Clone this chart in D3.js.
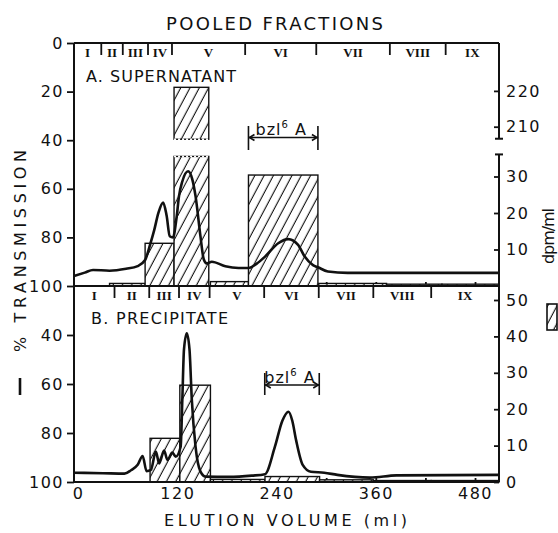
<!DOCTYPE html>
<html><head><meta charset="utf-8">
<script src="https://cdn.jsdelivr.net/npm/d3@7"></script>
<style>
body{margin:0;background:#fff}
svg{display:block}
</style></head><body>
<svg id="chart" width="558" height="533"></svg>
<script>
// ---- data ----
const volumeTicks = [0, 120, 240, 360, 480];
const volumeMinorTicks = [240, 300, 360, 420, 480];
const romanNumerals = ["I", "II", "III", "IV", "V", "VI", "VII", "VIII", "IX"];
// pooled fraction boundaries (ml)
const fractionEdgesA = [-5, 28, 54, 84.5, 113.5, 202, 288, 377, 444.5, 509];
const fractionEdgesB = [-5, 44, 86, 122, 159, 225, 291, 357, 427, 509];
// radioactivity of each pool: [start ml, end ml, dpm/ml]
const barsA = [[38, 81, 0.7], [81, 116, 11.7], [116, 158, 221], [160, 206, 1.2],
               [206, 290, 30.4], [291, 373, 0.7], [373, 440, 0.5], [440, 509, 0.5]];
const barsB = [[87, 123, 12.0], [123, 160, 26.6], [160, 226, 0.7], [226, 292, 1.5],
               [292, 357, 0.6], [357, 427, 0.4], [427, 509, 0.4]];
// absorbance traces: [ml, % transmission]
const traceA = [[-5, 95.9], [8, 94.5], [18, 93.4], [38, 93.7], [58, 92.9], [72, 91.8], [81, 89.3],
  [87, 83], [92, 77], [97, 70], [102.8, 65.7], [107, 71], [110.8, 79.5], [114.7, 80],
  [119, 72], [122, 63], [126, 57], [133, 52.8], [138, 56], [142, 63], [148, 79.7],
  [151.9, 89], [155.5, 90.7], [161.7, 90], [178, 91.9], [194, 92.6], [206, 92.6],
  [216, 90.8], [226, 87.9], [242, 82.4], [254, 80.7], [266, 83.1], [274, 87.9],
  [284, 91.4], [290, 92.3], [302, 94], [326, 94.6], [420, 94.6], [509, 94.6]];
const traceB = [[-5, 96.2], [30, 96.4], [56, 96.6], [64, 95.2], [72, 93], [78, 89.4], [82.8, 95.6],
  [88, 95.1], [94, 87.6], [98, 92.4], [104, 87.2], [108, 91], [114, 88], [118, 89.7],
  [124, 85.6], [126, 66.5], [128, 46], [131.4, 39.3], [134.7, 46], [137.5, 66.5],
  [142, 85.6], [148, 95.8], [154, 97.8], [182, 97.9], [210, 97.4], [226, 96.8],
  [238, 85.6], [247, 75], [254.5, 71.3], [259, 75], [263.6, 82.9], [271.6, 93],
  [281.6, 95.8], [297.6, 96.2], [313.5, 97.1], [353, 98.2], [385, 97.3], [509, 97.1]];
const transTicksA = [0, 20, 40, 60, 80, 100];
const transTicksB = [40, 60, 80, 100];
const dpmTicksA = [10, 20, 30];
const dpmTicksAUpper = [210, 220];
const dpmTicksB = [0, 10, 20, 30, 40, 50];
const breakLow = 35.5, breakHigh = 206.5;

// ---- layout ----
const FONT = "'DejaVu Sans', sans-serif";
const INK = "#111";
const left = 74, right = 499, topA = 43, midY = 286, botY = 482;

const svg = d3.select("#chart");
const x = d3.scaleLinear().domain([-5, 509]).range([left, right]);
const yA = d3.scaleLinear().domain([0, 100]).range([topA, midY]);
const yB = d3.scaleLinear().domain([20, 100]).range([midY, botY]);
const dA = d3.scaleLinear().domain([0, 10]).range([midY, 249.5]);
const dAup = d3.scaleLinear().domain([210, 220]).range([126.7, 90.9]);
const dB = d3.scaleLinear().domain([0, 50]).range([botY, 300]);

// hatch fill
const defs = svg.append("defs");
const pat = defs.append("pattern").attr("id", "hatch")
  .attr("patternUnits", "userSpaceOnUse").attr("width", 8.2).attr("height", 8.2)
  .attr("patternTransform", "rotate(28)");
pat.append("rect").attr("width", 8.2).attr("height", 8.2).attr("fill", "#fff");
pat.append("line").attr("x1", 4).attr("y1", -1).attr("x2", 4).attr("y2", 9.2)
  .attr("stroke", INK).attr("stroke-width", 1.1);

function styleAxis(g, size) {
  g.attr("font-family", null).attr("font-size", null);
  g.select(".domain").remove();
  g.selectAll("line").attr("stroke", INK).attr("stroke-width", 1.8);
  g.selectAll("text").attr("font-family", FONT).attr("font-size", size || 15)
    .attr("fill", INK).attr("letter-spacing", 1.5);
}

// minor volume ticks inside both panels
[midY, botY].forEach(yy => {
  svg.append("g").attr("transform", `translate(0,${yy})`)
    .call(d3.axisTop(x).tickValues(volumeMinorTicks).tickSize(4).tickFormat(""))
    .call(g => styleAxis(g));
});

// bars
function drawBars(bars, scale, base, upper) {
  const g = svg.append("g");
  bars.forEach(([s, e, v]) => {
    const x0 = x(s), w = x(e) - x(s);
    if (upper && v > breakLow) {
      const yLow = scale(breakLow);
      g.append("rect").attr("x", x0).attr("y", yLow).attr("width", w).attr("height", base - yLow)
        .attr("fill", "url(#hatch)").attr("stroke", INK).attr("stroke-width", 1.4);
      const yTop = upper(v), yBot = upper(breakHigh);
      g.append("rect").attr("x", x0).attr("y", yTop).attr("width", w).attr("height", yBot - yTop)
        .attr("fill", "url(#hatch)").attr("stroke", INK).attr("stroke-width", 1.4);
      [yLow, yBot].forEach(yy => g.append("line").attr("x1", x0).attr("x2", x0 + w)
        .attr("y1", yy).attr("y2", yy).attr("stroke", "#fff").attr("stroke-width", 1.6)
        .attr("stroke-dasharray", "2,2"));
    } else {
      const yTop = scale(v);
      g.append("rect").attr("x", x0).attr("y", yTop).attr("width", w).attr("height", base - yTop)
        .attr("fill", "url(#hatch)").attr("stroke", INK).attr("stroke-width", 1.4);
    }
  });
}
drawBars(barsA, dA, midY, dAup);
drawBars(barsB, dB, botY, null);

// traces
const lineA = d3.line().x(d => x(d[0])).y(d => yA(d[1])).curve(d3.curveMonotoneX);
const lineB = d3.line().x(d => x(d[0])).y(d => yB(d[1])).curve(d3.curveMonotoneX);
svg.append("path").attr("d", lineA(traceA)).attr("fill", "none").attr("stroke", INK)
  .attr("stroke-width", 2.6).attr("stroke-linejoin", "round");
svg.append("path").attr("d", lineB(traceB)).attr("fill", "none").attr("stroke", INK)
  .attr("stroke-width", 2.6).attr("stroke-linejoin", "round");

// frame
const frame = svg.append("g").attr("stroke", INK).attr("stroke-width", 2).attr("fill", "none");
frame.append("line").attr("x1", left).attr("x2", right).attr("y1", topA).attr("y2", topA);
frame.append("line").attr("x1", left).attr("x2", right).attr("y1", midY).attr("y2", midY);
frame.append("line").attr("x1", left).attr("x2", right).attr("y1", botY).attr("y2", botY);
frame.append("line").attr("x1", left).attr("x2", left).attr("y1", topA).attr("y2", botY);
const upBot = dAup(breakHigh) - 0.5, lowTop = dA(breakLow) - 2;
frame.append("line").attr("x1", right).attr("x2", right).attr("y1", topA).attr("y2", upBot);
frame.append("line").attr("x1", right).attr("x2", right).attr("y1", lowTop).attr("y2", botY);
frame.append("line").attr("x1", right - 4).attr("x2", right + 4).attr("y1", upBot).attr("y2", upBot);
frame.append("line").attr("x1", right - 4).attr("x2", right + 4).attr("y1", lowTop).attr("y2", lowTop);

// left axes
svg.append("g").attr("transform", `translate(${left},0)`)
  .call(d3.axisLeft(yA).tickValues(transTicksA).tickSize(7).tickPadding(3))
  .call(g => styleAxis(g, 16));
svg.append("g").attr("transform", `translate(${left},0)`)
  .call(d3.axisLeft(yB).tickValues(transTicksB).tickSize(7).tickPadding(3))
  .call(g => styleAxis(g, 16));
// right axes
[[dA, dpmTicksA], [dAup, dpmTicksAUpper], [dB, dpmTicksB]].forEach(([sc, tv]) => {
  svg.append("g").attr("transform", `translate(${right},0)`)
    .call(d3.axisRight(sc).tickValues(tv).tickSize(-5).tickPadding(7))
    .call(g => styleAxis(g, 16));
});
// volume axis labels
svg.append("g").attr("transform", `translate(0,${botY})`)
  .call(d3.axisBottom(x).tickValues(volumeTicks).tickSize(0).tickPadding(6))
  .call(g => styleAxis(g, 16));

// pooled fraction rows
function fractionRow(edges, yy, baseY) {
  const g = svg.append("g");
  edges.slice(1, -1).forEach(e => g.append("line").attr("x1", x(e)).attr("x2", x(e))
    .attr("y1", yy).attr("y2", yy + 12).attr("stroke", INK).attr("stroke-width", 1.8));
  romanNumerals.forEach((r, i) => g.append("text")
    .attr("x", (x(edges[i]) + x(edges[i + 1])) / 2).attr("y", baseY)
    .attr("text-anchor", "middle").attr("font-family", "'Liberation Serif', serif")
    .attr("font-weight", "bold").attr("font-size", 13).attr("fill", INK).text(r));
}
fractionRow(fractionEdgesA, topA, 57);
fractionRow(fractionEdgesB, midY, 300);

// bzl6A brackets
function bracket(s, e, yLine, yT, yB2, ty) {
  const g = svg.append("g").attr("stroke", INK).attr("stroke-width", 1.6).attr("fill", "none");
  const x0 = x(s), x1 = x(e);
  g.append("line").attr("x1", x0).attr("x2", x0).attr("y1", yT).attr("y2", yB2);
  g.append("line").attr("x1", x1).attr("x2", x1).attr("y1", yT).attr("y2", yB2);
  g.append("line").attr("x1", x0).attr("x2", x1).attr("y1", yLine).attr("y2", yLine);
  g.append("path").attr("d", `M${x0 + 6},${yLine - 3}L${x0 + 1},${yLine}L${x0 + 6},${yLine + 3}`);
  g.append("path").attr("d", `M${x1 - 6},${yLine - 3}L${x1 - 1},${yLine}L${x1 - 6},${yLine + 3}`);
  const t = svg.append("text").attr("x", (x0 + x1) / 2 - 2).attr("y", ty)
    .attr("text-anchor", "middle").attr("font-family", FONT).attr("font-size", 16)
    .attr("fill", INK).attr("letter-spacing", 1);
  t.append("tspan").text("bzl");
  t.append("tspan").attr("font-size", 10).attr("dy", -7).text("6");
  t.append("tspan").attr("dy", 7).text(" A");
}
bracket(206, 290, 137.5, 126, 150, 135);
bracket(225.7, 291.6, 385, 373, 395, 382.5);

// labels
function label(txt, xx, yy, size, len, anchor, rot) {
  const t = svg.append("text").attr("font-family", FONT).attr("font-size", size)
    .attr("fill", INK).attr("text-anchor", anchor || "start").text(txt)
    .attr("textLength", len).attr("lengthAdjust", "spacing");
  if (rot) t.attr("transform", `translate(${xx},${yy}) rotate(-90)`);
  else t.attr("x", xx).attr("y", yy);
  return t;
}
label("POOLED  FRACTIONS", 166, 30, 18, 217);
label("A. SUPERNATANT", 86, 82, 16, 150);
label("B. PRECIPITATE", 91, 323.5, 16, 137);
label("ELUTION  VOLUME  (ml)", 164, 526, 16, 243);
label("% TRANSMISSION", 26, 352, 16, 202, "start", true);
svg.append("line").attr("x1", 20).attr("x2", 20).attr("y1", 378).attr("y2", 395)
  .attr("stroke", INK).attr("stroke-width", 2.6);
label("dpm/ml", 554, 264, 16, 56, "start", true);
svg.append("rect").attr("x", 547).attr("y", 304).attr("width", 10).attr("height", 26)
  .attr("fill", "url(#hatch)").attr("stroke", INK).attr("stroke-width", 1.6);
</script>
</body></html>
